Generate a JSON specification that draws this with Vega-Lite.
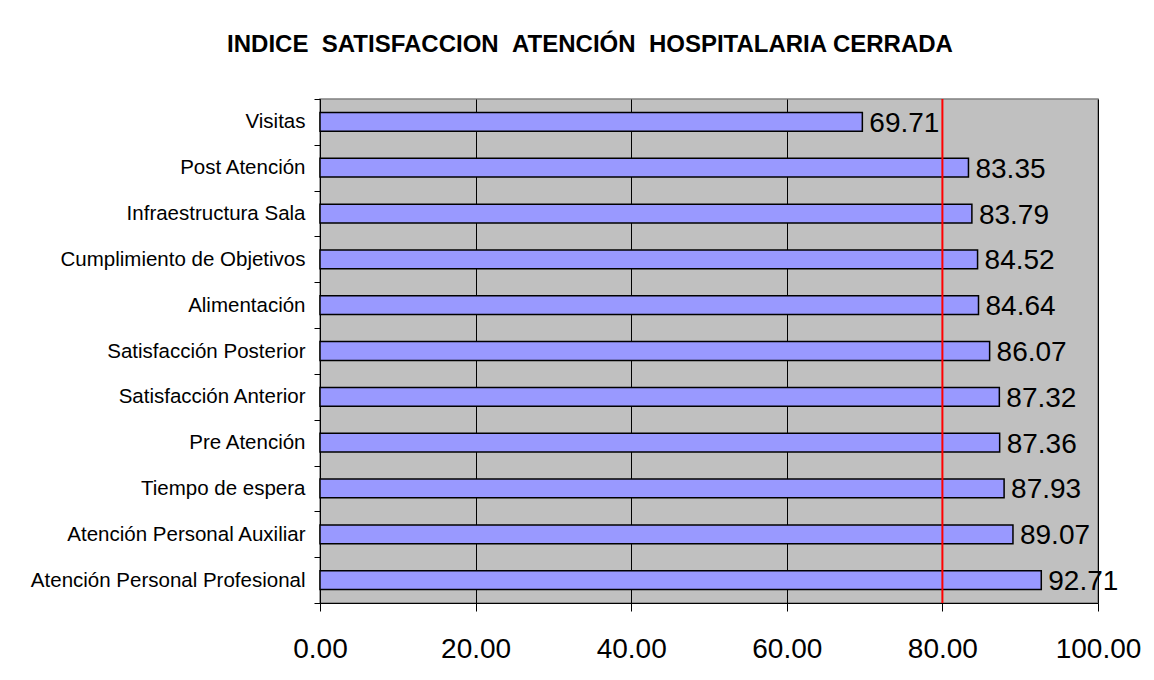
{
  "$schema": "https://vega.github.io/schema/vega-lite/v6.json",
  "autosize": "none",
  "width": 778,
  "height": 504,
  "padding": {"left": 320, "top": 99, "right": 56, "bottom": 77},
  "background": "white",
  "title": {
    "text": "INDICE\u00a0\u00a0SATISFACCION\u00a0\u00a0ATENCIÓN\u00a0\u00a0HOSPITALARIA CERRADA",
    "font": "Liberation Sans",
    "fontSize": 24,
    "fontWeight": "bold",
    "color": "black",
    "anchor": "middle",
    "frame": "group",
    "dx": -119,
    "baseline": "alphabetic",
    "offset": 13
  },
  "data": {
    "values": [
      {"item": "Visitas", "score": 69.71},
      {"item": "Post Atención", "score": 83.35},
      {"item": "Infraestructura Sala", "score": 83.79},
      {"item": "Cumplimiento de Objetivos", "score": 84.52},
      {"item": "Alimentación", "score": 84.64},
      {"item": "Satisfacción Posterior", "score": 86.07},
      {"item": "Satisfacción Anterior", "score": 87.32},
      {"item": "Pre Atención", "score": 87.36},
      {"item": "Tiempo de espera", "score": 87.93},
      {"item": "Atención Personal Auxiliar", "score": 89.07},
      {"item": "Atención Personal Profesional", "score": 92.71}
    ]
  },
  "encoding": {
    "y": {
      "field": "item",
      "type": "nominal",
      "sort": null,
      "scale": {"paddingInner": 0, "paddingOuter": 0},
      "axis": {
        "title": null,
        "tickBand": "extent",
        "tickSize": 6,
        "tickColor": "black",
        "domainColor": "black",
        "labelPadding": 9,
        "labelFont": "Liberation Sans",
        "labelFontSize": 20.5,
        "labelColor": "black",
        "labelLimit": 400
      }
    },
    "x": {
      "field": "score",
      "type": "quantitative",
      "scale": {"domain": [0, 100], "nice": false, "zero": true},
      "axis": {
        "title": null,
        "values": [0, 20, 40, 60, 80, 100],
        "format": ".2f",
        "grid": true,
        "gridColor": "black",
        "gridOpacity": 1,
        "gridWidth": 1,
        "tickSize": 8,
        "tickColor": "black",
        "domainColor": "black",
        "labelFont": "Liberation Sans",
        "labelFontSize": 28,
        "labelColor": "black",
        "labelBaseline": "alphabetic",
        "labelPadding": 46,
        "labelFlush": false
      }
    }
  },
  "layer": [
    {
      "mark": {"type": "bar", "fill": "#9999FF", "stroke": "black", "strokeWidth": 1.5, "height": {"band": 0.41}}
    },
    {
      "mark": {
        "type": "text",
        "align": "left",
        "baseline": "middle",
        "dx": 7,
        "dy": 2,
        "font": "Liberation Sans",
        "fontSize": 28,
        "color": "black"
      },
      "encoding": {
        "text": {"field": "score", "type": "quantitative", "format": ".2f"}
      }
    },
    {
      "data": {"values": [{"target": 80}]},
      "mark": {"type": "rule", "color": "#FF0000", "strokeWidth": 2},
      "encoding": {
        "x": {"field": "target", "type": "quantitative"},
        "y": null
      }
    }
  ],
  "config": {
    "view": {"fill": "#C0C0C0", "stroke": "#808080", "strokeWidth": 1.5}
  }
}
